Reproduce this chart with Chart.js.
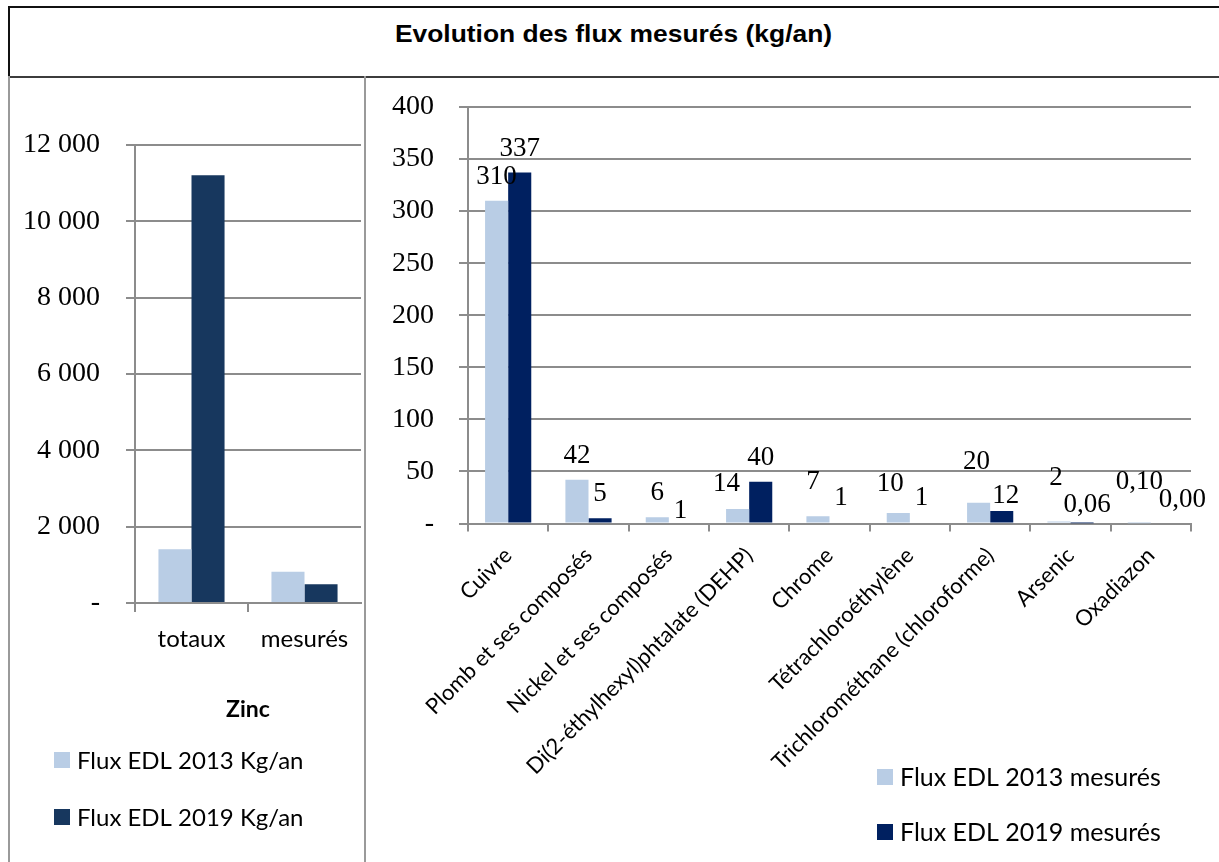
<!DOCTYPE html>
<html lang="fr">
<head>
<meta charset="utf-8">
<title>Evolution des flux mesurés (kg/an)</title>
<script src="https://cdn.jsdelivr.net/npm/chart.js@4.4.0/dist/chart.umd.min.js"></script>
<style>
  html, body { margin: 0; padding: 0; background: #fff; }
  body { width: 1219px; height: 862px; position: relative; overflow: hidden; }
  #titleBox {
    position: absolute; left: 8px; top: 6px; width: 1240px; height: 68px;
    border-top: 2px solid #111; border-left: 2px solid #111; border-bottom: 2px solid #3c3c3c;
  }
  #title {
    position: absolute; left: 8px; width: 1211px; top: 20px; height: 28px; line-height: 28px;
    text-align: center; font: bold 24px "Liberation Sans", Arial, sans-serif; color: #000;
    transform: scaleX(1.1); transform-origin: 50% 50%;
  }
  .rule { position: absolute; top: 76px; width: 2px; height: 786px; background: #9a9a9a; }
  canvas { position: absolute; }
</style>
</head>
<body>
<div id="titleBox"></div>
<div id="title">Evolution des flux mesurés (kg/an)</div>
<div class="rule" style="left:8px"></div>
<div class="rule" style="left:364px"></div>
<canvas id="zinc" width="354" height="784" style="left:10px;top:78px"></canvas>
<canvas id="flux" width="853" height="784" style="left:366px;top:78px"></canvas>
<script>
// Zinc (kg/an)
const zincCategories = ['totaux', 'mesurés'];
const zincTitle = 'Zinc';
const zinc2013 = [1410, 820];
const zinc2019 = [11210, 490];
const zincSeries = ['Flux EDL 2013 Kg/an', 'Flux EDL 2019 Kg/an'];

// Other substances, measured flows (kg/an)
const substances = [
  'Cuivre',
  'Plomb et ses composés',
  'Nickel et ses composés',
  'Di(2-éthylhexyl)phtalate (DEHP)',
  'Chrome',
  'Tétrachloroéthylène',
  'Trichlorométhane (chloroforme)',
  'Arsenic',
  'Oxadiazon'
];
const mesures2013 = [310, 42, 6, 14, 7, 10, 20, 2, 0.10];
const mesures2019 = [337, 5, 1, 40, 1, 1, 12, 0.06, 0.00];
const fluxSeries = ['Flux EDL 2013 mesurés', 'Flux EDL 2019 mesurés'];

const LIGHT = '#b9cde5';
const ZINC_DARK = '#17375e';
const NAVY = '#002060';
const GRID = '#8c8c8c';
const SANS = 'Lato, "Open Sans", sans-serif';
const SERIF = '"Liberation Serif", "DejaVu Serif", serif';

Chart.defaults.color = '#000';
Chart.defaults.animation = false;

// "12 000" style thousands, dash for zero
function axisNumber(v) {
  if (v === 0) return '-';
  return String(v).replace(/\B(?=(\d{3})+(?!\d))/g, ' ');
}
// small values keep two decimals with a comma
function valueText(v) {
  return v < 1 ? v.toFixed(2).replace('.', ',') : String(Math.round(v));
}

// Vertical legend drawn at a fixed spot of the canvas
function sideLegend(x, y, rowGap, box, font) {
  return {
    id: 'sideLegend',
    afterDraw(chart) {
      const ctx = chart.ctx;
      ctx.save();
      ctx.font = font;
      ctx.textBaseline = 'middle';
      ctx.textAlign = 'left';
      chart.data.datasets.forEach((ds, i) => {
        const cy = y + i * rowGap;
        ctx.fillStyle = ds.backgroundColor;
        ctx.fillRect(x, cy - box / 2, box, box);
        ctx.fillStyle = '#000';
        ctx.fillText(ds.label, x + box + 7, cy + 1);
      });
      ctx.restore();
    }
  };
}

// Value labels above each bar, with small hand nudges where they crowd
function valueLabels(lift, font, nudges) {
  return {
    id: 'valueLabels',
    afterDatasetsDraw(chart) {
      const ctx = chart.ctx;
      ctx.save();
      ctx.font = font;
      ctx.fillStyle = '#000';
      ctx.textAlign = 'center';
      ctx.textBaseline = 'alphabetic';
      chart.data.datasets.forEach((ds, di) => {
        chart.getDatasetMeta(di).data.forEach((bar, i) => {
          const n = (nudges[di] && nudges[di][i]) || [0, 0];
          ctx.fillText(valueText(ds.data[i]), bar.x + n[0], bar.y - lift + n[1]);
        });
      });
      ctx.restore();
    }
  };
}

// Value axis with a fixed width; its label overhang is covered by the layout padding
function gridY(width, tickLen) {
  return {
    grid: { color: GRID, lineWidth: 2, tickLength: tickLen, drawTicks: true },
    border: { color: GRID, width: 2 },
    afterFit(scale) {
      scale.width = width;
      scale.paddingTop = 0;
      scale.paddingBottom = 0;
    }
  };
}

// Left: zinc
new Chart(document.getElementById('zinc'), {
  type: 'bar',
  data: {
    labels: zincCategories,
    datasets: [
      { label: zincSeries[0], data: zinc2013, backgroundColor: LIGHT },
      { label: zincSeries[1], data: zinc2019, backgroundColor: ZINC_DARK }
    ]
  },
  options: {
    responsive: false,
    devicePixelRatio: 1,
    layout: { padding: { top: 67, right: 3, bottom: 134, left: 0 } },
    datasets: { bar: { barPercentage: 1, categoryPercentage: 0.585 } },
    plugins: { legend: { display: false }, tooltip: { enabled: false } },
    scales: {
      x: {
        grid: {
          display: true, drawOnChartArea: false, offset: true, tickLength: 9, lineWidth: 2,
          color: (c) => (c.type === 'tick' ? GRID : 'rgba(0,0,0,0)')
        },
        border: { color: GRID, width: 2 },
        ticks: { font: { family: SANS, size: 24 }, padding: 13, maxRotation: 0, autoSkip: false },
        title: { display: true, text: zincTitle, font: { family: SANS, size: 23, weight: 'bold' }, padding: { top: 0, bottom: 5 } },
        afterFit(scale) { scale.height = 125; }
      },
      y: Object.assign(gridY(125, 9), {
        min: 0, max: 12000,
        ticks: { stepSize: 2000, padding: 26, font: { family: SERIF, size: 28 }, callback: axisNumber }
      })
    }
  },
  plugins: [sideLegend(44, 682, 57, 16, '24px ' + SANS)]
});

// Right: measured flows of the other substances
const fluxNudges = [
  [[0, 0], [0, 0], [0, 0], [-11, -1], [-5, -10], [-8, -5], [-2, -17], [-3, -19], [0, -17]],
  [[0, 0], [0, 0], [0, 13], [0, 0], [0, 0], [0, 0], [4, 9], [5, 6], [20, 0]]
];

new Chart(document.getElementById('flux'), {
  type: 'bar',
  data: {
    labels: substances,
    datasets: [
      { label: fluxSeries[0], data: mesures2013, backgroundColor: LIGHT },
      { label: fluxSeries[1], data: mesures2019, backgroundColor: NAVY }
    ]
  },
  options: {
    responsive: false,
    devicePixelRatio: 1,
    layout: { padding: { top: 29, right: 28, bottom: 0, left: 0 } },
    datasets: { bar: { barPercentage: 1, categoryPercentage: 0.575 } },
    plugins: { legend: { display: false }, tooltip: { enabled: false } },
    scales: {
      x: {
        grid: { display: true, drawOnChartArea: false, offset: true, tickLength: 8, color: GRID, lineWidth: 2 },
        border: { color: GRID, width: 2 },
        ticks: { font: { family: SANS, size: 22 }, padding: 11, minRotation: 45, maxRotation: 45, autoSkip: false },
        afterFit(scale) { scale.height = 338.5; }
      },
      y: Object.assign(gridY(102, 9), {
        min: 0, max: 400,
        ticks: { stepSize: 50, padding: 25, font: { family: SERIF, size: 28 }, callback: axisNumber }
      })
    }
  },
  plugins: [
    valueLabels(17, '27px ' + SERIF, fluxNudges),
    sideLegend(511, 699, 55, 16, '25px ' + SANS)
  ]
});
</script>
</body>
</html>
